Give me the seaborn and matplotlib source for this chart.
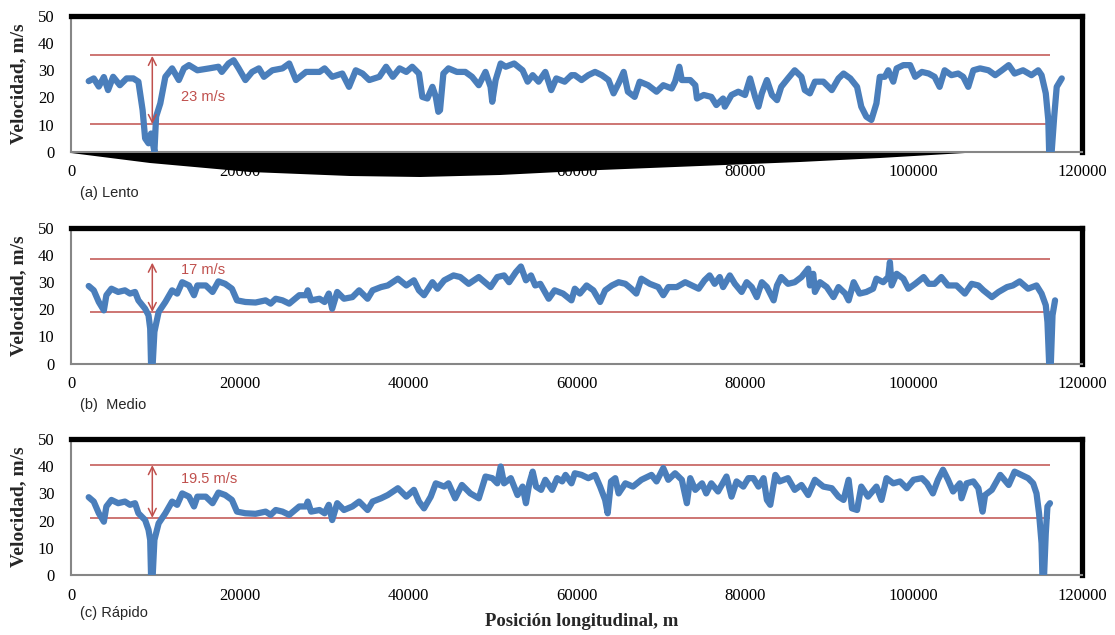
import seaborn as sns
import matplotlib.pyplot as plt
from matplotlib.patches import Polygon

# posición longitudinal (m) y velocidad (m/s)
pos_lento = [2100, 2700, 3300, 3900, 4400, 5000, 5800, 6600, 7400, 8000, 8500, 8800, 9200, 9500,
             9900, 10100, 10600, 11200, 12000, 12800, 13400, 14000, 15000, 16400, 17500, 17900,
             18700, 19300, 19900, 20700, 21500, 22300, 22900, 23900, 25100, 25900, 26700, 27900,
             29500, 30100, 31000, 32200, 33000, 33800, 34600, 35400, 36600, 37400, 38200, 39000,
             39800, 40500, 41300, 41700, 42300, 42900, 43300, 43600, 43800, 44200, 44800, 45800,
             46800, 47600, 48400, 49200, 49800, 50000, 50400, 51000, 51600, 52600, 53600, 54200,
             54800, 55500, 56300, 57000, 57600, 58600, 59400, 59800, 60600, 61400, 62200, 63000,
             63800, 64400, 65000, 65600, 66100, 66900, 67500, 68500, 69500, 70300, 71300, 71700,
             72200, 72500, 73500, 74100, 74300, 75100, 76000, 76600, 77400, 77600, 78400, 79200,
             80000, 80600, 81200, 81600, 82000, 82600, 83200, 83800, 84300, 85100, 85900, 86700,
             87100, 87700, 88300, 89300, 90300, 91100, 91700, 92500, 93300, 93800, 94400, 95000,
             95600, 96000, 96600, 97000, 97600, 98000, 98800, 99600, 100200, 101000, 101800,
             102500, 103100, 103700, 104500, 105300, 105900, 106500, 107100, 107900, 108900,
             109700, 110500, 111300, 112000, 113000, 114000, 114800, 115200, 115700, 116000,
             116100, 116400, 116700, 117000, 117600]
vel_lento = [26.0, 27.0, 24.0, 27.5, 22.7, 27.6, 24.5, 27.0, 27.0, 25.8, 15.3, 4.9, 3.1, 6.7,
             0.0, 12.9, 17.8, 27.6, 30.7, 26.4, 30.7, 31.9, 30.0, 30.7, 31.3, 29.4,
             32.5, 33.7, 30.7, 26.4, 29.4, 30.7, 27.6, 30.0, 30.7, 32.5, 26.4, 29.4,
             29.4, 30.7, 27.6, 28.8, 23.9, 30.0, 28.8, 26.4, 27.6, 31.3, 27.6, 30.7,
             29.4, 31.3, 28.8, 20.2, 19.6, 23.9, 20.2, 14.7, 15.3, 28.8, 30.7, 29.4,
             29.4, 27.6, 24.5, 29.4, 23.9, 18.4, 26.4, 32.5, 31.3, 32.5, 30.0, 25.8,
             28.2, 25.8, 29.4, 22.7, 27.0, 25.8, 28.2, 28.2, 26.4, 28.2, 29.4, 28.2,
             26.4, 21.5, 25.2, 29.4, 22.1, 20.2, 25.8, 24.5, 22.1, 24.5, 23.3, 25.8,
             31.3, 26.4, 26.4, 24.5, 19.6, 20.9, 20.2, 17.2, 19.6, 16.6, 20.9, 22.1,
             20.9, 27.0, 20.2, 16.6, 21.5, 26.4, 20.9, 19.0, 23.9, 27.0, 30.0, 27.6,
             22.7, 21.5, 25.8, 25.8, 22.7, 27.0, 28.8, 27.0, 23.9, 16.6, 12.9, 11.7,
             17.8, 27.6, 27.6, 30.0, 25.8, 30.7, 31.9, 31.9, 27.6, 29.4, 28.8,
             27.6, 23.9, 30.0, 28.2, 28.8, 27.6, 23.9, 30.0, 30.7, 30.0,
             28.2, 30.0, 31.9, 28.8, 30.0, 28.2, 30.0, 28.2, 21.5, 11.7,
             0.0, 0.0, 12.9, 23.9, 27.0]

pos_medio = [2100, 2700, 3300, 3900, 4200, 4800, 5600, 6400, 7000, 7600, 8000, 8800, 9200, 9400,
             9500, 9700, 9900, 10400, 11200, 12000, 12600, 13200, 14000, 14600, 15000, 16000,
             16800, 17500, 18300, 19100, 19700, 20700, 21900, 23100, 23700, 24300, 25100, 25900,
             27100, 27900, 28100, 28500, 29500, 30100, 30600, 31000, 31600, 32400, 33400, 34200,
             35200, 35800, 36800, 37600, 38800, 39800, 40700, 41300, 41900, 42900, 43500, 44300,
             45400, 46200, 47200, 48400, 49800, 50600, 51400, 52000, 52800, 53400, 54000, 54600,
             55100, 55700, 56700, 57400, 58400, 59400, 59800, 60400, 61200, 62000, 62800, 63400,
             64200, 65000, 65800, 66500, 67100, 67700, 68700, 69700, 70300, 70900, 71900, 72900,
             73700, 74500, 75200, 75800, 76400, 77000, 77400, 78200, 78800, 79600, 80200, 80800,
             81400, 82000, 82600, 83400, 83800, 84300, 85100, 85900, 86700, 87500, 87700, 88100,
             88300, 88900, 89700, 90500, 91100, 91900, 92300, 92900, 93600, 94400, 95200, 95600,
             96400, 97000, 97200, 97400, 98000, 98800, 99400, 100200, 101200, 101800, 102500,
             103300, 104100, 105100, 106100, 106900, 107700, 108300, 109300, 110100, 111100,
             111800, 112600, 113600, 114600, 115200, 115700, 115900, 116100, 116300, 116500, 116800]
vel_medio = [28.6, 27.0, 22.7, 19.6, 25.2, 27.6, 26.4, 27.0, 25.8, 26.4, 23.3, 20.2, 17.8, 12.9,
             0.0, 0.0, 11.7, 19.0, 22.7, 27.0, 25.8, 30.0, 28.8, 25.2, 28.8, 28.8,
             26.4, 30.3, 29.4, 27.6, 23.3, 22.7, 22.5, 23.3, 22.1, 23.9, 23.3, 22.1,
             25.2, 25.2, 27.0, 23.3, 23.9, 22.7, 25.8, 20.2, 26.4, 23.9, 24.5, 27.0,
             23.9, 27.0, 28.2, 28.8, 31.3, 28.8, 30.7, 27.0, 25.2, 30.0, 27.6, 30.7,
             32.5, 31.9, 29.4, 31.9, 28.2, 31.9, 32.5, 30.0, 33.7, 35.8, 30.7, 32.5,
             28.8, 29.4, 23.9, 27.0, 25.8, 23.3, 27.6, 25.8, 28.8, 27.0, 22.7, 27.0,
             28.8, 30.0, 29.4, 27.6, 25.8, 31.3, 29.4, 28.2, 25.2, 28.2, 28.2, 30.0,
             28.8, 27.6, 30.7, 32.5, 29.4, 31.9, 28.2, 32.5, 29.4, 26.4, 30.0, 28.2,
             24.5, 30.0, 28.2, 23.3, 28.8, 31.9, 29.4, 30.0, 31.9, 35.0, 28.8, 33.1,
             26.4, 30.0, 28.2, 24.5, 28.2, 25.8, 23.3, 30.0, 25.8, 26.4, 27.6, 31.3,
             30.0, 31.9, 37.4, 28.8, 33.1, 31.3, 27.6, 29.4, 31.9, 29.4, 29.4,
             31.9, 28.8, 28.8, 25.8, 29.4, 28.8, 27.0, 24.5, 26.4, 28.2,
             28.8, 30.3, 27.6, 28.8, 25.8, 21.5, 15.3, 0.0, 0.0, 17.8, 23.3]

pos_rapido = [2100, 2700, 3300, 3900, 4200, 4800, 5600, 6400, 7000, 7600, 8000, 8800, 9200, 9400,
              9500, 9700, 9900, 10400, 11200, 12000, 12600, 13200, 14000, 14600, 15000, 16000,
              16800, 17500, 18300, 19100, 19700, 20700, 21900, 23100, 23700, 24300, 25100, 25900,
              27100, 27900, 28100, 28500, 29500, 30100, 30600, 31000, 31600, 32400, 33400, 34200,
              35200, 35800, 36800, 37600, 38800, 39800, 40700, 41300, 41900, 42700, 43300, 44300,
              44800, 45600, 46400, 47400, 48400, 49200, 50000, 50600, 51000, 51400, 52200, 53000,
              53600, 54000, 54400, 54800, 55200, 55800, 56300, 57100, 57700, 58300, 58700, 59400,
              59800, 60600, 61400, 62200, 62800, 63400, 63700, 64100, 64600, 65000, 65800, 66700,
              67700, 68900, 69500, 70300, 70900, 71700, 72500, 73100, 73500, 74100, 74900, 75400,
              76000, 76800, 77800, 78400, 79000, 79800, 80400, 81000, 81600, 82200, 82600, 83000,
              83600, 84100, 85100, 85900, 86700, 87500, 88300, 89300, 90300, 91100, 91700, 92300,
              92700, 93300, 93800, 94600, 95600, 96200, 96800, 97600, 98400, 99200, 100000,
              101000, 101600, 102300, 102900, 103500, 104100, 104700, 105500, 105700, 106300,
              107100, 107700, 108200, 108500, 109300, 110300, 111300, 112000, 112800, 113600,
              114200, 114600, 114900, 115200, 115300, 115500, 115700, 115900, 116200]
vel_rapido = [28.6, 27.0, 22.7, 19.6, 25.2, 27.6, 26.4, 27.0, 25.8, 26.4, 22.7, 20.2, 16.6, 12.9,
              0.0, 0.0, 12.9, 19.0, 22.7, 27.0, 25.8, 30.0, 28.8, 25.2, 28.8, 28.8,
              26.4, 30.3, 29.4, 27.6, 23.3, 22.7, 22.5, 23.3, 22.1, 23.9, 23.3, 22.1,
              25.2, 25.2, 27.0, 23.3, 23.9, 22.7, 25.8, 20.2, 26.4, 23.9, 25.2, 27.0,
              23.9, 27.0, 28.2, 29.4, 31.9, 28.8, 31.3, 27.0, 24.5, 28.8, 33.7, 32.5,
              33.7, 28.2, 33.1, 30.0, 28.2, 36.2, 35.6, 33.7, 39.9, 33.7, 35.6, 29.4,
              32.5, 26.4, 33.7, 38.0, 32.5, 31.3, 35.0, 31.3, 35.6, 34.4, 36.8, 33.7,
              37.4, 36.8, 35.6, 36.8, 32.5, 27.6, 22.7, 34.4, 35.6, 30.0, 33.7, 32.5,
              35.0, 36.8, 34.4, 39.3, 35.0, 37.4, 35.0, 26.4, 35.6, 31.3, 33.7, 30.0,
              33.7, 30.7, 36.2, 28.8, 34.4, 32.5, 35.6, 35.6, 32.5, 35.6, 27.6, 25.8,
              36.8, 34.4, 35.6, 31.3, 33.1, 29.4, 35.0, 32.5, 31.9, 28.8, 27.6, 35.0,
              24.5, 23.9, 32.5, 28.8, 32.5, 27.6, 35.6, 33.7, 34.4, 31.9, 35.0,
              35.6, 33.7, 30.0, 35.0, 38.7, 35.0, 30.7, 33.7, 28.2, 33.7,
              34.4, 31.9, 23.3, 29.4, 31.3, 36.8, 33.1, 38.0, 36.8, 35.6,
              33.7, 30.0, 22.7, 11.7, 0.0, 0.0, 15.3, 25.2, 26.4]

paneles = ["(a) Lento", "(b)  Medio", "(c) Rápido"]
banda_sup = [35.8, 38.5, 40.4]
banda_inf = [10.2, 19.0, 21.0]
banda_x = [2300, 116200]
flecha_x = 9650
flecha_top = [35.3, 37.2, 40.4]
rango_txt = ["23 m/s", "17 m/s", "19.5 m/s"]
rango_txt_y = [20.0, 34.6, 35.2]

sns.set_theme(style="white")
plt.rcParams["font.family"] = ["Liberation Serif", "DejaVu Serif"]

azul = "#4a7ebb"
rojo = "#c0504d"
gris = "#868686"

fig = plt.figure(figsize=(11.15, 6.35), dpi=100)
W, H = 1115, 635
tops = [16, 228, 439]
bottoms = [151.7, 363.5, 575]
series = [(pos_lento, vel_lento), (pos_medio, vel_medio), (pos_rapido, vel_rapido)]

for i in range(3):
    ax = fig.add_axes([71 / W, 1 - bottoms[i] / H, 1011 / W, (bottoms[i] - tops[i]) / H])
    x, y = series[i]
    ax.hlines([banda_sup[i], banda_inf[i]], banda_x[0], banda_x[1], color=rojo, lw=1.1, zorder=2)
    sns.lineplot(x=x, y=y, ax=ax, color=azul, linewidth=4.5, estimator=None, sort=False,
                 solid_capstyle="round", solid_joinstyle="round", zorder=3)
    ax.annotate("", xy=(flecha_x, flecha_top[i]), xytext=(flecha_x, banda_inf[i]),
                arrowprops=dict(arrowstyle="<->", color=rojo, lw=1.1,
                                mutation_scale=14, shrinkA=0, shrinkB=0), zorder=4)
    ax.text(13000, rango_txt_y[i], rango_txt[i], color=rojo, fontsize=10.5,
            family=["Liberation Sans", "DejaVu Sans"], va="center", ha="left")

    ax.set_xlim(0, 120000)
    ax.set_ylim(0, 50)
    ax.set_xticks(range(0, 120001, 20000))
    ax.set_yticks(range(0, 51, 10))
    ax.set_xlabel("")
    ax.set_ylabel("Velocidad, m/s", fontsize=14, fontweight="bold")
    ax.yaxis.set_label_coords(-0.043, 0.5)
    ax.tick_params(axis="both", labelsize=12, colors=gris, labelcolor="black",
                   length=4, width=1.2, direction="out")
    ax.tick_params(axis="y", pad=8)
    ax.tick_params(axis="x", pad=5)
    for s in ["left", "bottom"]:
        ax.spines[s].set_color(gris)
        ax.spines[s].set_linewidth(1.5)
    for s in ["top", "right"]:
        ax.spines[s].set_color("black")
        ax.spines[s].set_linewidth(3.8)
    ax.grid(False)

    fig.text(80 / W, 1 - [193, 405, 613][i] / H, paneles[i], fontsize=10.5,
             family=["Liberation Sans", "DejaVu Sans"], va="center", ha="left")

# sombra negra bajo el primer panel (artefacto del original)
sombra = [(71, 153), (150, 163), (250, 172), (350, 176), (420, 177), (500, 175), (600, 170),
          (700, 166), (800, 162), (880, 158), (965, 153)]
fig.patches.append(Polygon([(px / W, 1 - py / H) for px, py in sombra], closed=True,
                           transform=fig.transFigure, facecolor="black", edgecolor="none",
                           zorder=5))

fig.text(582 / W, 1 - 621 / H, "Posición longitudinal, m", fontsize=13.5, fontweight="bold",
         ha="center", va="center")

fig.savefig("out.png", dpi=100)
